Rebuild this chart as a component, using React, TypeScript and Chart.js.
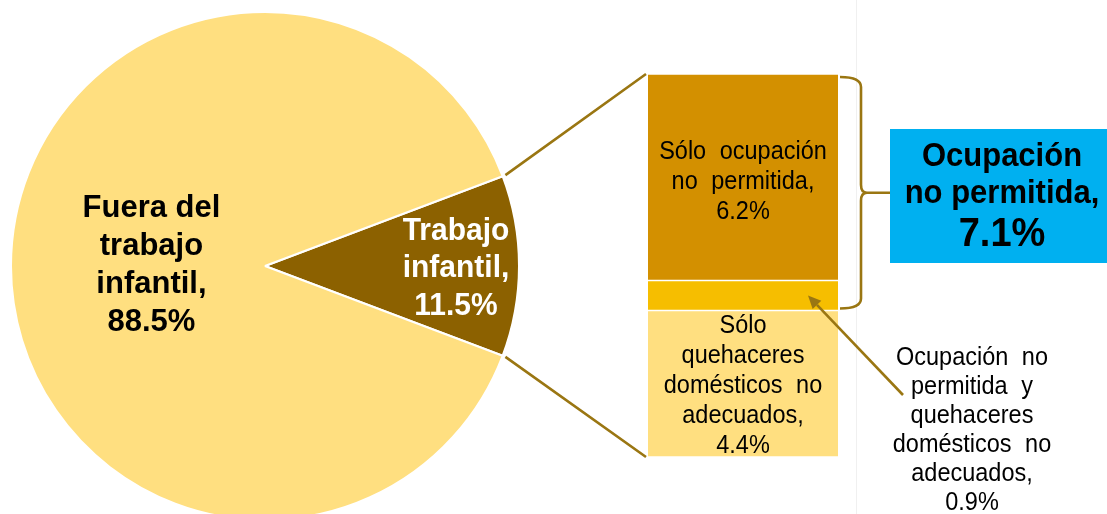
import React, { useEffect, useRef } from "react";
import { Chart, registerables } from "chart.js";

Chart.register(...registerables);

// ---- Data ----
const pieLabels = ["Trabajo infantil", "Fuera del trabajo infantil"];
const pieValues = [11.5, 88.5];
const pieTextLines = [
  ["Trabajo", "infantil,"],
  ["Fuera del", "trabajo", "infantil,"],
];

// stacked bar, bottom to top
const barLabels = [
  "Sólo quehaceres domésticos no adecuados",
  "Ocupación no permitida y quehaceres domésticos no adecuados",
  "Sólo ocupación no permitida",
];
const barValues = [4.4, 0.9, 6.2];
const barTextLines: (string[] | null)[] = [
  ["Sólo", "quehaceres", "domésticos no", "adecuados,"],
  null,
  ["Sólo ocupación", "no permitida,"],
];
const noteLines = ["Ocupación no", "permitida y", "quehaceres", "domésticos no", "adecuados,"];
const boxLines = ["Ocupación", "no permitida,"];

// ---- Styles ----
const pieColors = ["#8C6100", "#FFDF80"];
const barColors = ["#FFDF80", "#F6BE00", "#D39000"];
const LINE = "#9A7612";
const BLUE = "#00B0F0";
const FONT = '"Liberation Sans", Arial, Helvetica, sans-serif';

const W = 1107;
const H = 514;
const PIE = { left: 10, top: 11, size: 510 };
const BAR = { left: 648, top: 74, width: 190, height: 383 };

const fmt = (v: number) => `${v.toFixed(1)}%`;

// draws a regular (justified-looking) line, slightly stretched vertically
function drawPlain(ctx: CanvasRenderingContext2D, text: string, x: number, y: number) {
  ctx.save();
  (ctx as any).wordSpacing = text.includes(" ") ? "7px" : "0px";
  ctx.translate(x, y);
  ctx.scale(1, 1.06);
  ctx.fillText(text, 0, 0);
  ctx.restore();
}

export default function App() {
  const pieRef = useRef<HTMLCanvasElement>(null);
  const barRef = useRef<HTMLCanvasElement>(null);
  const overRef = useRef<HTMLCanvasElement>(null);

  useEffect(() => {
    const total = pieValues.reduce((a, b) => a + b, 0);
    const rotation = 90 - ((pieValues[0] / total) * 360) / 2;

    const pieLabelPlugin = {
      id: "pieLabels",
      afterDatasetsDraw(chart: any) {
        const ctx = chart.ctx;
        const arcs = chart.getDatasetMeta(0).data;
        arcs.forEach((arc: any, i: number) => {
          const { x, y, startAngle, endAngle, outerRadius } = arc.getProps(
            ["x", "y", "startAngle", "endAngle", "outerRadius"],
            true
          );
          const mid = (startAngle + endAngle) / 2;
          const f = i === 0 ? 0.752 : 0.447;
          const cx = x + Math.cos(mid) * outerRadius * f;
          const cy = y + Math.sin(mid) * outerRadius * f + (i === 0 ? 2.5 : -1);
          const lines = [...pieTextLines[i], fmt(pieValues[i])];
          const lh = i === 0 ? 37.5 : 37.8;
          ctx.save();
          ctx.font = `bold ${i === 0 ? 30 : 31}px ${FONT}`;
          ctx.fillStyle = i === 0 ? "#FFFFFF" : "#000000";
          ctx.textAlign = "center";
          ctx.textBaseline = "middle";
          lines.forEach((l, k) => {
            const ly = cy + (k - (lines.length - 1) / 2) * lh;
            ctx.save();
            ctx.translate(cx, ly);
            ctx.scale(1, 1.04);
            ctx.fillText(l, 0, 0);
            ctx.restore();
          });
          ctx.restore();
        });
      },
    };

    const barLabelPlugin = {
      id: "barLabels",
      afterDatasetsDraw(chart: any) {
        const ctx = chart.ctx;
        barValues.forEach((v, i) => {
          const t = barTextLines[i];
          if (!t) return;
          const el = chart.getDatasetMeta(i).data[0];
          const { x, y, base } = el.getProps(["x", "y", "base"], true);
          const lines = [...t, fmt(v)];
          const cy = (y + base) / 2 + (i === 2 ? 5 : 2);
          const lh = 30;
          ctx.save();
          ctx.font = `23.5px ${FONT}`;
          ctx.fillStyle = "#000000";
          ctx.textAlign = "center";
          ctx.textBaseline = "middle";
          lines.forEach((l, k) => drawPlain(ctx, l, x, cy + (k - (lines.length - 1) / 2) * lh));
          ctx.restore();
        });
      },
    };

    const pie = new Chart(pieRef.current!, {
      type: "pie",
      data: {
        labels: pieLabels,
        datasets: [
          {
            data: pieValues,
            backgroundColor: pieColors,
            borderColor: "#FFFFFF",
            borderWidth: 2,
            hoverOffset: 0,
            offset: 0,
          },
        ],
      },
      options: {
        responsive: false,
        animation: false,
        devicePixelRatio: 1,
        rotation,
        events: [],
        layout: { padding: 0 },
        plugins: { legend: { display: false }, tooltip: { enabled: false } },
      },
      plugins: [pieLabelPlugin],
    } as any);

    const barTotal = barValues.reduce((a, b) => a + b, 0);
    const bar = new Chart(barRef.current!, {
      type: "bar",
      data: {
        labels: [""],
        datasets: barValues.map((v, i) => ({
          label: barLabels[i],
          data: [v],
          backgroundColor: barColors[i],
          borderColor: "#FFFFFF",
          borderWidth: { top: 1, bottom: 1, left: 0, right: 0 },
          borderSkipped: false,
          barPercentage: 1,
          categoryPercentage: 1,
        })),
      },
      options: {
        responsive: false,
        animation: false,
        devicePixelRatio: 1,
        events: [],
        layout: { padding: 0 },
        plugins: { legend: { display: false }, tooltip: { enabled: false } },
        scales: {
          x: { display: false, stacked: true },
          y: { display: false, stacked: true, min: 0, max: barTotal },
        },
      },
      plugins: [barLabelPlugin],
    } as any);

    // ---- overlay: connectors, brace, callout box, arrow ----
    const oc = overRef.current!;
    const ctx = oc.getContext("2d")!;
    ctx.clearRect(0, 0, W, H);

    // faint page edge line
    ctx.strokeStyle = "#F0F0F0";
    ctx.lineWidth = 1;
    ctx.beginPath();
    ctx.moveTo(856.5, 0);
    ctx.lineTo(856.5, H);
    ctx.stroke();

    const arc: any = pie.getDatasetMeta(0).data[0];
    const a = arc.getProps(["x", "y", "startAngle", "endAngle", "outerRadius"], true);
    const pcx = PIE.left + a.x;
    const pcy = PIE.top + a.y;
    const rr = a.outerRadius + 3;
    const p1 = { x: pcx + Math.cos(a.startAngle) * rr, y: pcy + Math.sin(a.startAngle) * rr };
    const p2 = { x: pcx + Math.cos(a.endAngle) * rr, y: pcy + Math.sin(a.endAngle) * rr };

    const segs = barValues.map((_, i) => {
      const el: any = bar.getDatasetMeta(i).data[0];
      const p = el.getProps(["x", "y", "base", "width"], true);
      return {
        left: BAR.left + p.x - p.width / 2,
        right: BAR.left + p.x + p.width / 2,
        top: BAR.top + p.y,
        bottom: BAR.top + p.base,
      };
    });
    const barLeft = segs[0].left;
    const barRight = segs[0].right;
    const barTop = segs[2].top;
    const barBottom = segs[0].bottom;

    ctx.strokeStyle = LINE;
    ctx.lineWidth = 2.6;
    ctx.lineCap = "butt";
    ctx.beginPath();
    ctx.moveTo(p1.x, p1.y);
    ctx.lineTo(barLeft - 2, barTop);
    ctx.moveTo(p2.x, p2.y);
    ctx.lineTo(barLeft - 2, barBottom);
    ctx.stroke();

    // brace over top two segments
    const bx0 = barRight + 2;
    const bxv = barRight + 23;
    const byT = barTop + 3;
    const byB = segs[1].bottom - 2;
    const byM = (byT + byB) / 2;
    const boxLeft = 890;
    ctx.lineWidth = 2.6;
    ctx.beginPath();
    ctx.moveTo(bx0, byT);
    ctx.quadraticCurveTo(bxv, byT, bxv, byT + 10);
    ctx.lineTo(bxv, byM - 8);
    ctx.quadraticCurveTo(bxv, byM, bxv + 6, byM);
    ctx.quadraticCurveTo(bxv, byM, bxv, byM + 8);
    ctx.lineTo(bxv, byB - 10);
    ctx.quadraticCurveTo(bxv, byB, bx0, byB);
    ctx.moveTo(bxv + 5, byM);
    ctx.lineTo(boxLeft, byM);
    ctx.stroke();

    // callout box
    const boxTop = 129;
    const boxH = 134;
    ctx.fillStyle = BLUE;
    ctx.fillRect(boxLeft, boxTop, W - boxLeft, boxH);
    const occTotal = barValues[1] + barValues[2];
    ctx.fillStyle = "#000000";
    ctx.textAlign = "center";
    ctx.textBaseline = "middle";
    const bcx = 1002;
    const drawBold = (t: string, size: number, y: number) => {
      ctx.save();
      ctx.font = `bold ${size}px ${FONT}`;
      ctx.translate(bcx, y);
      ctx.scale(1, 1.05);
      ctx.fillText(t, 0, 0);
      ctx.restore();
    };
    drawBold(boxLines[0], 31, 157);
    drawBold(boxLines[1], 31, 194.5);
    drawBold(fmt(occTotal), 38, 235);

    // annotation text
    ctx.font = `23.5px ${FONT}`;
    const nl = [...noteLines, fmt(barValues[1])];
    nl.forEach((l, k) => drawPlain(ctx, l, 972, 358 + k * 29));

    // arrow to middle segment
    const head = { x: barRight - 30, y: (segs[1].top + segs[1].bottom) / 2 };
    const tail = { x: 903, y: 395 };
    const ang = Math.atan2(head.y - tail.y, head.x - tail.x);
    const hl = 13;
    const hw = 6;
    const bxh = head.x - Math.cos(ang) * hl;
    const byh = head.y - Math.sin(ang) * hl;
    ctx.strokeStyle = LINE;
    ctx.lineWidth = 2.6;
    ctx.beginPath();
    ctx.moveTo(tail.x, tail.y);
    ctx.lineTo(bxh, byh);
    ctx.stroke();
    ctx.fillStyle = LINE;
    ctx.beginPath();
    ctx.moveTo(head.x, head.y);
    ctx.lineTo(bxh + Math.sin(ang) * hw, byh - Math.cos(ang) * hw);
    ctx.lineTo(bxh - Math.sin(ang) * hw, byh + Math.cos(ang) * hw);
    ctx.closePath();
    ctx.fill();

    return () => {
      pie.destroy();
      bar.destroy();
    };
  }, []);

  return (
    <div
      style={{
        position: "absolute",
        left: 0,
        top: 0,
        width: W,
        height: H,
        overflow: "hidden",
        background: "#FFFFFF",
      }}
    >
      <canvas
        ref={pieRef}
        width={PIE.size}
        height={PIE.size}
        style={{ position: "absolute", left: PIE.left, top: PIE.top, width: PIE.size, height: PIE.size }}
      />
      <canvas
        ref={barRef}
        width={BAR.width}
        height={BAR.height}
        style={{ position: "absolute", left: BAR.left, top: BAR.top, width: BAR.width, height: BAR.height }}
      />
      <canvas
        ref={overRef}
        width={W}
        height={H}
        style={{ position: "absolute", left: 0, top: 0, width: W, height: H, pointerEvents: "none" }}
      />
    </div>
  );
}
